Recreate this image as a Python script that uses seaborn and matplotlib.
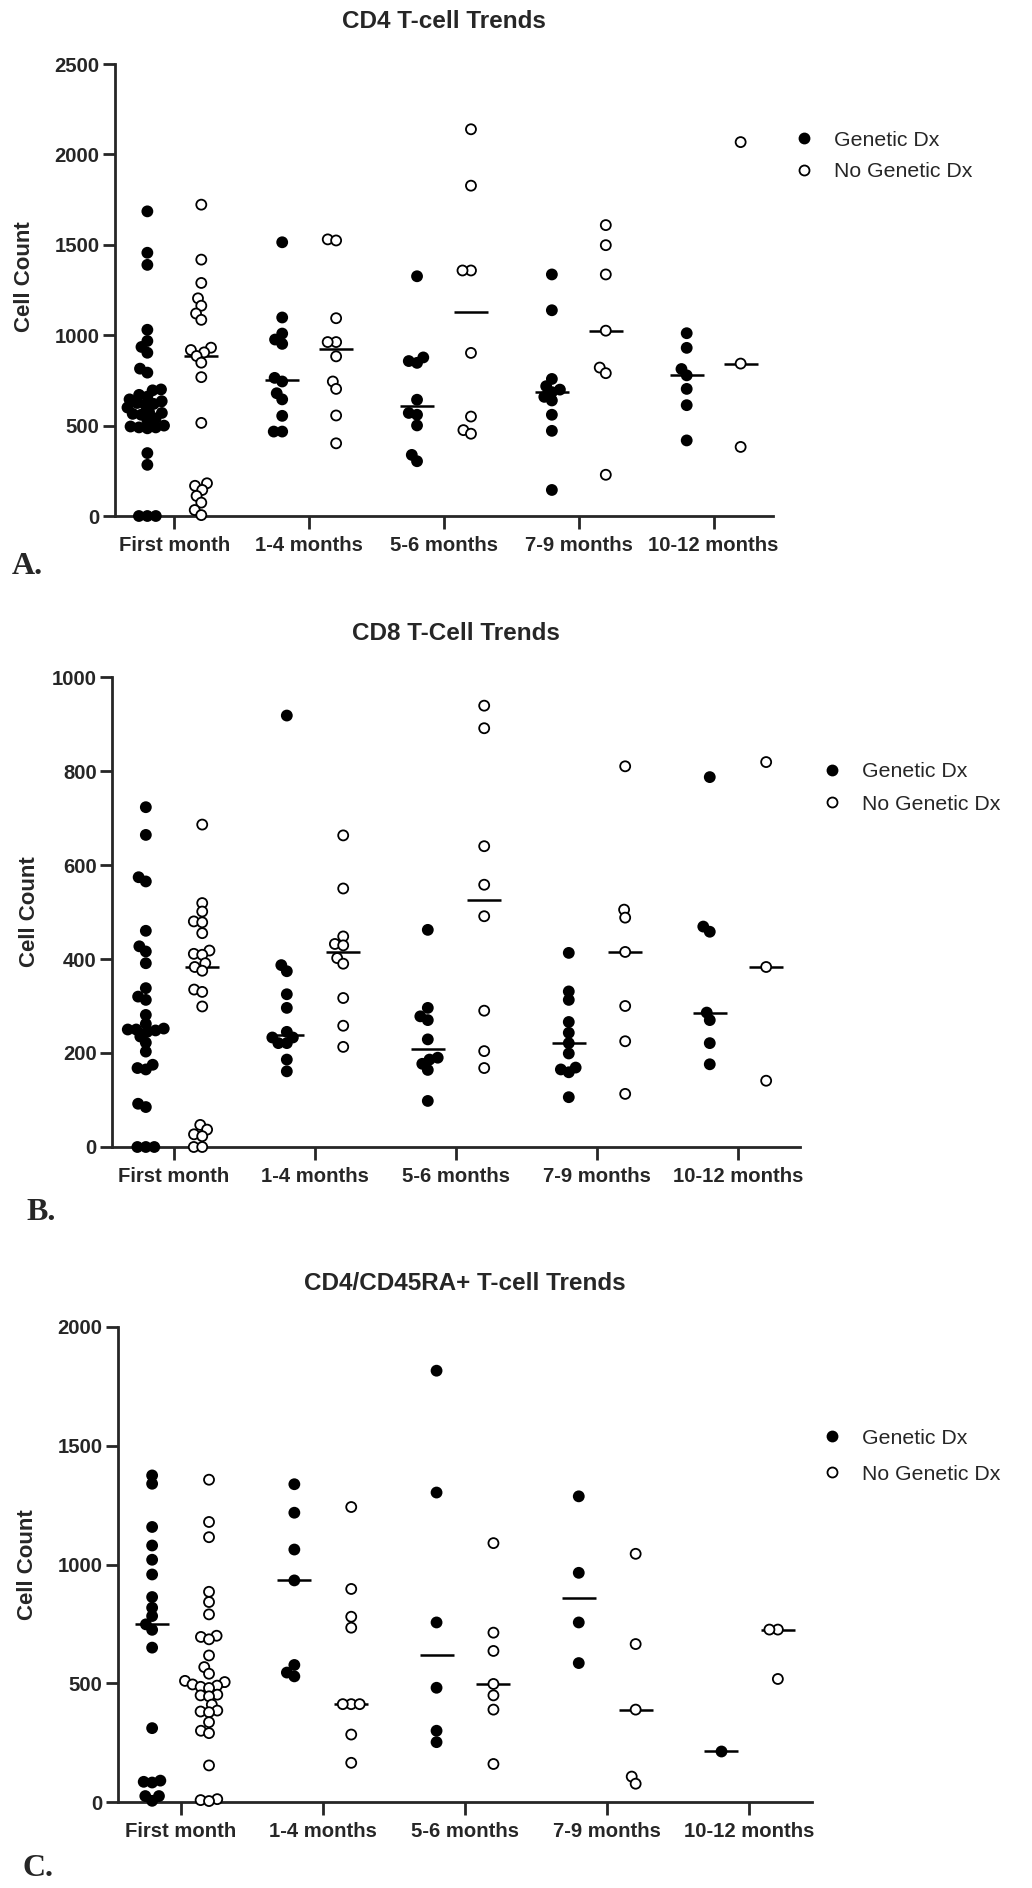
import warnings
import pandas as pd
import matplotlib
matplotlib.use('Agg')
import matplotlib.pyplot as plt
import seaborn as sns

warnings.filterwarnings('ignore')

CATEGORIES = ['First month', '1-4 months', '5-6 months', '7-9 months', '10-12 months']
GROUPS = ['Genetic Dx', 'No Genetic Dx']

# CD4 T-cell counts (one list per time window)
CD4_GENETIC = [
    [1685, 1456, 1389, 1030, 968, 935, 903, 815, 793, 700, 695, 670, 660, 645, 635, 625,
     620, 615, 600, 575, 570, 565, 560, 540, 530, 500, 495, 490, 490, 485, 348, 283, 0, 0, 0],
    [1514, 1098, 1009, 976, 952, 764, 744, 679, 645, 554, 467, 467],
    [1326, 877, 857, 847, 643, 570, 560, 501, 338, 303],
    [1336, 1138, 758, 718, 699, 685, 659, 639, 560, 471, 144],
    [1011, 930, 813, 778, 703, 613, 418],
]
CD4_NO_GENETIC = [
    [1722, 1418, 1289, 1204, 1163, 1120, 1085, 931, 918, 905, 885, 848, 768, 515, 181, 167,
     144, 111, 74, 33, 5],
    [1530, 1524, 1094, 962, 962, 883, 744, 703, 556, 402],
    [2139, 1827, 1358, 1358, 902, 550, 475, 455],
    [1609, 1498, 1336, 1025, 821, 790, 228],
    [2068, 843, 382],
]

# CD8 T-cell counts
CD8_GENETIC = [
    [723, 664, 574, 565, 460, 427, 416, 391, 338, 320, 313, 281, 262, 252, 250, 250, 248,
     245, 235, 222, 203, 175, 168, 165, 92, 85, 0, 0, 0],
    [918, 387, 374, 325, 296, 245, 233, 233, 221, 221, 186, 161],
    [462, 296, 278, 270, 229, 190, 186, 177, 164, 98],
    [413, 331, 313, 266, 243, 221, 199, 169, 165, 159, 106],
    [787, 469, 458, 286, 270, 221, 176],
]
CD8_NO_GENETIC = [
    [686, 519, 501, 480, 478, 455, 418, 411, 409, 391, 383, 375, 335, 330, 299, 47, 37, 27,
     23, 0, 0],
    [663, 550, 448, 432, 429, 402, 390, 317, 258, 213],
    [939, 891, 640, 558, 491, 290, 204, 168],
    [810, 505, 488, 415, 300, 225, 113],
    [819, 383, 141],
]

# CD4/CD45RA+ T-cell counts
CD45RA_GENETIC = [
    [1375, 1340, 1158, 1080, 1020, 958, 863, 818, 783, 748, 725, 650, 311, 90, 85, 82, 25, 25, 5],
    [1338, 1218, 1063, 933, 577, 545, 529],
    [1816, 1303, 756, 481, 300, 252],
    [1287, 965, 756, 585],
    [213],
]
CD45RA_NO_GENETIC = [
    [1357, 1179, 1115, 885, 842, 790, 700, 695, 685, 617, 568, 540, 510, 505, 495, 490, 485,
     480, 452, 449, 445, 410, 385, 381, 378, 336, 300, 290, 154, 12, 8, 4],
    [1242, 897, 780, 734, 412, 412, 412, 284, 165],
    [1090, 713, 636, 497, 449, 389, 160],
    [1045, 665, 389, 107, 77],
    [726, 726, 518],
]

W, H = 1032, 1888
SANS = 'Liberation Sans'
SERIF = 'Liberation Serif'
LAYOUT_SIZE = 4.5   # marker size used while seaborn packs the swarm
MARKER_SIZE = 7.2   # marker size actually drawn (dots overlap like the original)


def to_long(genetic, no_genetic):
    rows = []
    for group, series in zip(GROUPS, [genetic, no_genetic]):
        for cat, values in zip(CATEGORIES, series):
            for v in values:
                rows.append({'window': cat, 'group': group, 'count': v})
    return pd.DataFrame(rows)


# layout in pixels: axes box (left, top, right, bottom), legend anchor, letter position
PANELS = [
    dict(title='CD4 T-cell Trends', df=to_long(CD4_GENETIC, CD4_NO_GENETIC),
         ymax=2500, step=500, box=(115, 64, 773, 516),
         legend=(793, 156), spacing=0.6, letter='A.', letter_pos=(12, 566),
         ylab=(35, 0.53)),
    dict(title='CD8 T-Cell Trends', df=to_long(CD8_GENETIC, CD8_NO_GENETIC),
         ymax=1000, step=200, box=(112, 677, 800, 1147),
         legend=(821, 788), spacing=0.65, letter='B.', letter_pos=(26, 1212),
         ylab=(40, 0.5)),
    dict(title='CD4/CD45RA+ T-cell Trends', df=to_long(CD45RA_GENETIC, CD45RA_NO_GENETIC),
         ymax=2000, step=500, box=(118, 1327, 812, 1802),
         legend=(821, 1456), spacing=0.8, letter='C.', letter_pos=(22, 1868),
         ylab=(38, 0.5)),
]

sns.set_style('ticks')
plt.rcParams['font.family'] = [SANS, 'DejaVu Sans']

fig = plt.figure(figsize=(W / 100, H / 100), dpi=100)

for p in PANELS:
    left, top, right, bottom = p['box']
    ax = fig.add_axes([left / W, 1 - bottom / H, (right - left) / W, (bottom - top) / H])
    df = p['df']

    sns.swarmplot(
        data=df, x='window', y='count', hue='group',
        order=CATEGORIES, hue_order=GROUPS, dodge=True,
        palette={'Genetic Dx': 'black', 'No Genetic Dx': 'white'},
        size=LAYOUT_SIZE, edgecolor='black', linewidth=1.3, ax=ax
    )
    # median bars
    sns.pointplot(
        data=df, x='window', y='count', hue='group',
        order=CATEGORIES, hue_order=GROUPS, dodge=0.4,
        estimator='median', errorbar=None, markers='_', linestyles='none',
        palette={'Genetic Dx': 'black', 'No Genetic Dx': 'black'},
        markersize=24, markeredgewidth=1.8, legend=False, ax=ax
    )

    for c in ax.collections:
        c.set_clip_on(False)
    for ln in ax.lines:
        ln.set_clip_on(False)

    ax.set_xlim(-0.44, 4.44)
    ax.set_ylim(0, p['ymax'])
    ax.set_yticks(range(0, p['ymax'] + 1, p['step']))
    ax.set_xticks(range(len(CATEGORIES)))
    ax.set_xticklabels(CATEGORIES)
    sns.despine(ax=ax)
    for side in ['left', 'bottom']:
        ax.spines[side].set_linewidth(2.0)
    ax.tick_params(axis='both', width=2.0, length=9, labelsize=14.6)
    ax.tick_params(axis='x', pad=5.3)
    ax.tick_params(axis='y', pad=2)
    for lab in ax.get_xticklabels() + ax.get_yticklabels():
        lab.set_fontweight('bold')

    ax.set_xlabel('')
    ax.set_ylabel('Cell Count', fontsize=16, fontweight='bold')
    lab_x, lab_y = p['ylab']
    ax.yaxis.set_label_coords((lab_x - left) / (right - left), lab_y)

    lx, ly = p['legend']
    sns.move_legend(
        ax, 'center left', bbox_to_anchor=(lx / W, 1 - ly / H),
        bbox_transform=fig.transFigure, title=None, frameon=False,
        fontsize=15.3, handlelength=1.0, handletextpad=0.95,
        markerscale=MARKER_SIZE / LAYOUT_SIZE,
        labelspacing=p['spacing'], borderpad=0, borderaxespad=0
    )

    fig.text((left + right) / 2 / W, 1 - (top - 43) / H, p['title'],
             ha='center', va='center', fontsize=17.5, fontweight='bold')
    tx, ty = p['letter_pos']
    fig.text(tx / W, 1 - ty / H, p['letter'], ha='left', va='center',
             fontsize=23, fontweight='bold', family=SERIF)

# let seaborn place the swarms once, then freeze them and enlarge the dots
fig.canvas.draw()
for ax in fig.axes:
    for c in ax.collections:
        c.__dict__.pop('draw', None)
        c.set_sizes([MARKER_SIZE ** 2])

fig.savefig('out.png', dpi=100)
